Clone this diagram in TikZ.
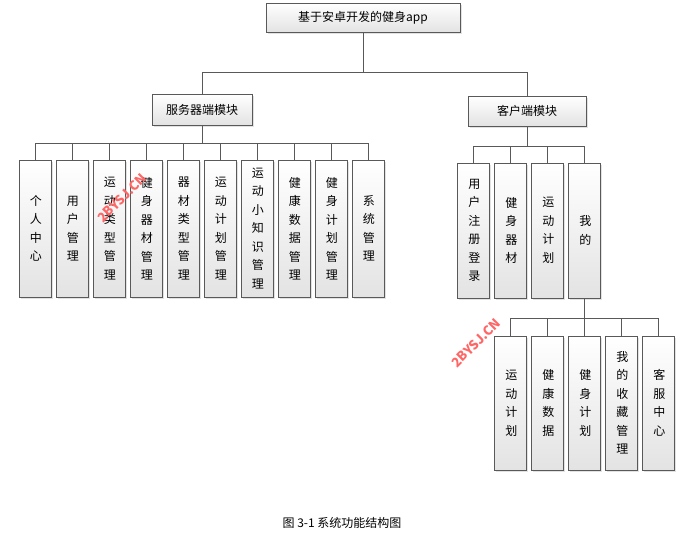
\documentclass[tikz,border=0pt]{standalone}
\usepackage{fontspec}
\setmainfont{Noto Sans CJK SC}
\XeTeXlinebreaklocale "zh"
\XeTeXlinebreakskip=0pt plus 1pt
\usetikzlibrary{shadows}
\tikzset{
  box/.style={draw=gray!70!black,top color=white,bottom color=gray!22,
    drop shadow={shadow xshift=1.5pt,shadow yshift=-1.5pt,fill=gray!45},
    font=\fontsize{12}{14}\selectfont,inner sep=0pt},
  vbox/.style={box,minimum width=32pt,text width=1.05em,align=center,
    font=\fontsize{12}{18.5}\selectfont},
  wire/.style={draw=gray!70!black,thick}
}
\begin{document}
\begin{tikzpicture}[x=1pt,y=-1pt]
  \useasboundingbox (0,0) rectangle (685,555);

  % Top levels
  \node[box,minimum width=194pt,minimum height=29pt] (app) at (363,17.5) {基于安卓开发的健身app};
  \node[box,minimum width=100pt,minimum height=31pt] (srv) at (202,109.5) {服务器端模块};
  \node[box,minimum width=118pt,minimum height=30pt] (cli) at (527,111) {客户端模块};
  \draw[wire] (app.south) -- ++(0,40) -| (srv);
  \draw[wire] (app.south) -- ++(0,40) -| (cli);

  % Server leaves
  \foreach \t [count=\i from 0] in {个人中心,用户管理,运动类型管理,健身器材管理,器材类型管理,运动计划管理,运动小知识管理,健康数据管理,健身计划管理,系统管理}{
    \node[vbox,minimum height=137pt] (s\i) at (35+37*\i,228.5) {\t};
    \draw[wire] (srv.south) -- ++(0,18) -| (s\i);
  }

  % Client leaves
  \foreach \t [count=\i from 0] in {用户注册登录,健身器材,运动计划,我的}{
    \node[vbox,minimum height=135pt] (c\i) at (473.5+37*\i,230.5) {\t};
    \draw[wire] (cli.south) -- ++(0,20) -| (c\i);
  }

  % Mine
  \foreach \t [count=\i from 0] in {运动计划,健康数据,健身计划,我的收藏管理,客服中心}{
    \node[vbox,minimum height=134pt] (m\i) at (510.5+37*\i,403) {\t};
    \draw[wire] (c3.south) -- ++(0,20) -| (m\i);
  }

  % Watermarks
  \node[red!60,rotate=45,font=\bfseries\fontsize{13}{15}\selectfont] (wm1) at (122,198) {2BYSJ.CN};
  \node[red!60,rotate=45,font=\bfseries\fontsize{13}{15}\selectfont] (wm2) at (476,343) {2BYSJ.CN};

  \node[font=\fontsize{12}{14}\selectfont] (cap) at (342,523) {图 3-1 系统功能结构图};
\end{tikzpicture}
\end{document}
